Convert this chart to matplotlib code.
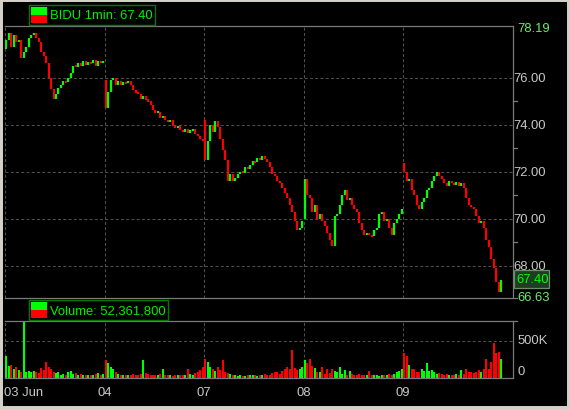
import matplotlib
matplotlib.use("Agg")
import matplotlib.pyplot as plt
from matplotlib.patches import Rectangle
from matplotlib.lines import Line2D
import numpy as np

plt.rcParams['font.family'] = ['Liberation Sans', 'DejaVu Sans']

# ---------------- data ----------------
day_labels = ["03 Jun", "04", "07", "08", "09"]
day_open = [77.2, 75.9, 74.2, 70.0, 72.35]

close_d1 = [77.6, 77.9, 77.3, 77.8, 77.5, 77.6, 76.85, 77.1, 77.3, 77.7,
            77.8, 77.9, 77.7, 77.5, 77.1, 76.9, 76.6, 76.0, 75.5, 75.1,
            75.3, 75.55, 75.7, 75.85, 75.8, 76.0, 76.2, 76.5, 76.45, 76.6,
            76.5, 76.7, 76.55, 76.65, 76.6, 76.75, 76.5, 76.7, 76.6, 76.7]
close_d2 = [74.7, 75.4, 75.9, 76.0, 75.7, 75.85, 75.7, 75.8, 75.75, 75.85,
            75.7, 75.45, 75.35, 75.3, 75.1, 75.2, 75.05, 75.0, 74.85, 74.6,
            74.5, 74.55, 74.3, 74.35, 74.2, 74.1, 74.2, 73.95, 73.85, 73.95,
            73.75, 73.7, 73.8, 73.65, 73.75, 73.8, 73.6, 73.5, 73.4, 73.3]
close_d3 = [72.5, 73.3, 74.0, 73.7, 74.15, 73.9, 73.4, 72.9, 72.5, 71.6,
            71.9, 71.6, 71.75, 71.9, 72.0, 71.95, 72.2, 72.1, 72.3, 72.45,
            72.4, 72.6, 72.5, 72.65, 72.55, 72.4, 72.2, 71.9, 71.8, 71.6,
            71.5, 71.3, 71.1, 70.9, 70.6, 70.3, 69.9, 69.5, 69.6, 69.9]
close_d4 = [71.7, 71.0, 70.9, 70.3, 70.6, 70.0, 70.2, 69.9, 69.7, 69.4,
            69.1, 68.85, 70.1, 70.2, 70.6, 71.0, 71.2, 70.8, 70.9, 70.6,
            70.4, 70.3, 69.8, 69.5, 69.3, 69.4, 69.3, 69.25, 69.5, 69.6,
            70.2, 70.3, 69.9, 70.0, 69.6, 69.3, 69.8, 70.0, 70.2, 70.4]
close_d5 = [72.0, 71.6, 71.7, 71.2, 71.0, 70.6, 70.4, 70.7, 70.9, 71.2,
            71.3, 71.6, 71.8, 72.0, 71.8, 71.7, 71.5, 71.4, 71.6, 71.5,
            71.45, 71.55, 71.4, 71.5, 71.3, 70.9, 70.6, 70.5, 70.4, 70.1,
            69.8, 69.9, 69.6, 69.1, 68.8, 68.3, 67.9, 67.3, 66.9, 67.4]

# volume per bar, thousands of shares
vol_d1 = [290, 170, 180, 130, 150, 110, 90, 750, 90, 100,
          80, 100, 90, 70, 140, 110, 220, 150, 120, 80,
          70, 80, 50, 60, 40, 90, 100, 60, 70, 50,
          60, 40, 50, 40, 50, 45, 60, 70, 50, 60]
vol_d2 = [250, 200, 150, 120, 90, 60, 45, 40, 50, 40,
          45, 60, 50, 40, 60, 240, 70, 60, 40, 45,
          40, 50, 60, 130, 50, 40, 45, 35, 40, 50,
          45, 40, 45, 120, 60, 50, 70, 90, 110, 150]
vol_d3 = [260, 220, 150, 120, 100, 150, 110, 250, 90, 70,
          60, 50, 40, 35, 40, 35, 30, 45, 40, 50,
          40, 35, 45, 50, 60, 40, 50, 70, 90, 80,
          60, 100, 130, 150, 120, 370, 140, 110, 120, 150]
vol_d4 = [250, 200, 260, 170, 140, 90, 80, 150, 60, 130,
          70, 120, 100, 90, 150, 60, 110, 50, 100, 60,
          50, 45, 60, 50, 40, 50, 100, 45, 40, 50,
          35, 40, 50, 45, 60, 50, 60, 80, 100, 130]
vol_d5 = [330, 290, 180, 130, 120, 90, 80, 130, 100, 210,
          100, 110, 80, 60, 70, 60, 50, 60, 45, 50,
          40, 55, 50, 110, 60, 130, 80, 90, 70, 80,
          110, 90, 130, 260, 120, 220, 470, 330, 350, 260]

price_top, price_bottom = 78.19, 66.63
last_price = 67.40
price_ticks = [68.0, 70.0, 72.0, 74.0, 76.0]
price_minor = [69.0, 71.0, 73.0, 75.0]
volume_total = "52,361,800"
vol_tick_labels = ["0", "500K"]
vol_tick_values = [0, 500000]
vol_top = 762000
symbol = "BIDU 1min"

# ---------------- build series ----------------
closes_days = [close_d1, close_d2, close_d3, close_d4, close_d5]
vols_days = [vol_d1, vol_d2, vol_d3, vol_d4, vol_d5]
xs, opens, closes, vols = [], [], [], []
for d, (cl, vv) in enumerate(zip(closes_days, vols_days)):
    n = len(cl)
    op = [day_open[d]] + cl[:-1]
    for i in range(n):
        xs.append(d + (i + 0.5) / n)
        opens.append(op[i])
        closes.append(cl[i])
        vols.append(vv[i] * 1000)
xs = np.array(xs); opens = np.array(opens); closes = np.array(closes); vols = np.array(vols)
up = closes >= opens
GREEN, RED = '#00ff00', '#ff0000'
cols = np.where(up, GREEN, RED)
lo = np.minimum(opens, closes)
hi = np.maximum(opens, closes)
pad = np.maximum(0, 0.09 - (hi - lo)) / 2

# ---------------- figure ----------------
W, H = 570, 410
fig = plt.figure(figsize=(W / 100, H / 100), dpi=100, facecolor='black')
fx = lambda x: x / W
fy = lambda y: 1 - y / H

x_right = 513
xmax = (x_right - 5) / 99.5
GRID = '#4e4e4e'
SPINE = '#7a7a7a'
LBL = '#c8c8c8'
dash = (0, (4 * 0.72, 3 * 0.72))

ax = fig.add_axes([fx(5), fy(299), (x_right - 5) / W, (299 - 27) / H])
axv = fig.add_axes([fx(5), fy(379.3), (x_right - 5) / W, (379.3 - 322) / H])
for a in (ax, axv):
    a.set_facecolor('black')
    a.set_xlim(0, xmax)
    for s in a.spines.values():
        s.set_visible(False)
    a.set_xticks([]); a.set_yticks([])

ax.set_ylim(price_bottom, price_top)
axv.set_ylim(0, vol_top)

# grids
for a in (ax, axv):
    for d in range(len(day_labels)):
        a.axvline(d, color=GRID, lw=0.75, ls=dash, zorder=1, clip_on=False)
for p in price_ticks:
    ax.axhline(p, color=GRID, lw=0.75, ls=dash, zorder=1)
axv.axhline(vol_tick_values[1], color=GRID, lw=0.75, ls=dash, zorder=1)

# candles
ax.vlines(xs, lo - pad, hi + pad, colors=cols, linewidth=1.6, zorder=3)
# volume
axv.vlines(xs, 0, vols, colors=cols, linewidth=1.5, zorder=3)

# frame lines
def fline(x0, y0, x1, y1, c=SPINE, lw=0.9):
    fig.add_artist(Line2D([fx(x0), fx(x1)], [fy(y0), fy(y1)], color=c, lw=lw,
                          transform=fig.transFigure, zorder=5))

fline(5, 27, x_right, 27)
fline(5, 299, 517, 299)
fline(x_right, 27, x_right, 299)
fline(5, 322, 517, 322)
fline(5, 379.3, x_right, 379.3)
fline(x_right, 322, x_right, 379.3)

# minor ticks on price axis
for p in price_minor:
    yy = 27 + (price_top - p) / (price_top - price_bottom) * 272
    fline(x_right, yy, 517, yy)

# price labels
fs = 9.4
for p in price_ticks:
    ax.text(1.0, p, f"{p:.2f}", transform=ax.get_yaxis_transform(),
            color=LBL, fontsize=fs, va='center', ha='left', clip_on=False)
fig.text(fx(517.5), fy(29), f"{price_top:.2f}", color='#66ee66', fontsize=fs,
         va='center', ha='left')
fig.text(fx(517.5), fy(298.5), f"{price_bottom:.2f}", color='#66ee66', fontsize=fs,
         va='center', ha='left')
# last price box
fig.add_artist(Rectangle((fx(513.5), fy(289)), 35 / W, 18 / H, transform=fig.transFigure,
                         facecolor='#1f3d1f', edgecolor='#6c8c6c', lw=0.9, zorder=6))
fig.text(fx(516), fy(280), f"{last_price:.2f}", color='#00ff00', fontsize=fs,
         va='center', ha='left', zorder=7)

# volume labels
fig.text(fx(518), fy(341.5), vol_tick_labels[1], color=LBL, fontsize=fs, va='center', ha='left')
fig.text(fx(518), fy(372), vol_tick_labels[0], color=LBL, fontsize=fs, va='center', ha='left')

# date labels
for d, lab in enumerate(day_labels):
    xp = 5 + d * 99.5
    if d == 0:
        fig.text(fx(4), fy(393), lab, color=LBL, fontsize=fs, va='center', ha='left')
    else:
        fig.text(fx(xp), fy(393), lab, color=LBL, fontsize=fs, va='center', ha='center')

# legend boxes
def legend_box(x0, y0, x1, y1, text):
    fig.add_artist(Rectangle((fx(x0), fy(y1)), (x1 - x0) / W, (y1 - y0) / H,
                             transform=fig.transFigure, facecolor='black',
                             edgecolor='#007a00', lw=1.0, zorder=6))
    ym = (y0 + y1) / 2
    fig.add_artist(Rectangle((fx(31), fy(ym)), 16 / W, (ym - y0 - 2) / H,
                             transform=fig.transFigure, facecolor=GREEN, lw=0, zorder=7))
    fig.add_artist(Rectangle((fx(31), fy(y1 - 2)), 16 / W, (y1 - 2 - ym) / H,
                             transform=fig.transFigure, facecolor=RED, lw=0, zorder=7))
    fig.text(fx(50), fy(ym + 0.5), text, color='#00ee00', fontsize=fs,
             va='center', ha='left', zorder=8)

legend_box(29, 6, 155, 25.5, f"{symbol}: {last_price:.2f}")
legend_box(29, 301, 168, 320.5, f"Volume: {volume_total}")

# window frame
fig.add_artist(Rectangle((0, 0), 1, 1, transform=fig.transFigure, fill=False,
                         edgecolor='#d4d0c8', lw=4.3, zorder=10))

fig.savefig('out.png', dpi=100, facecolor='black')
